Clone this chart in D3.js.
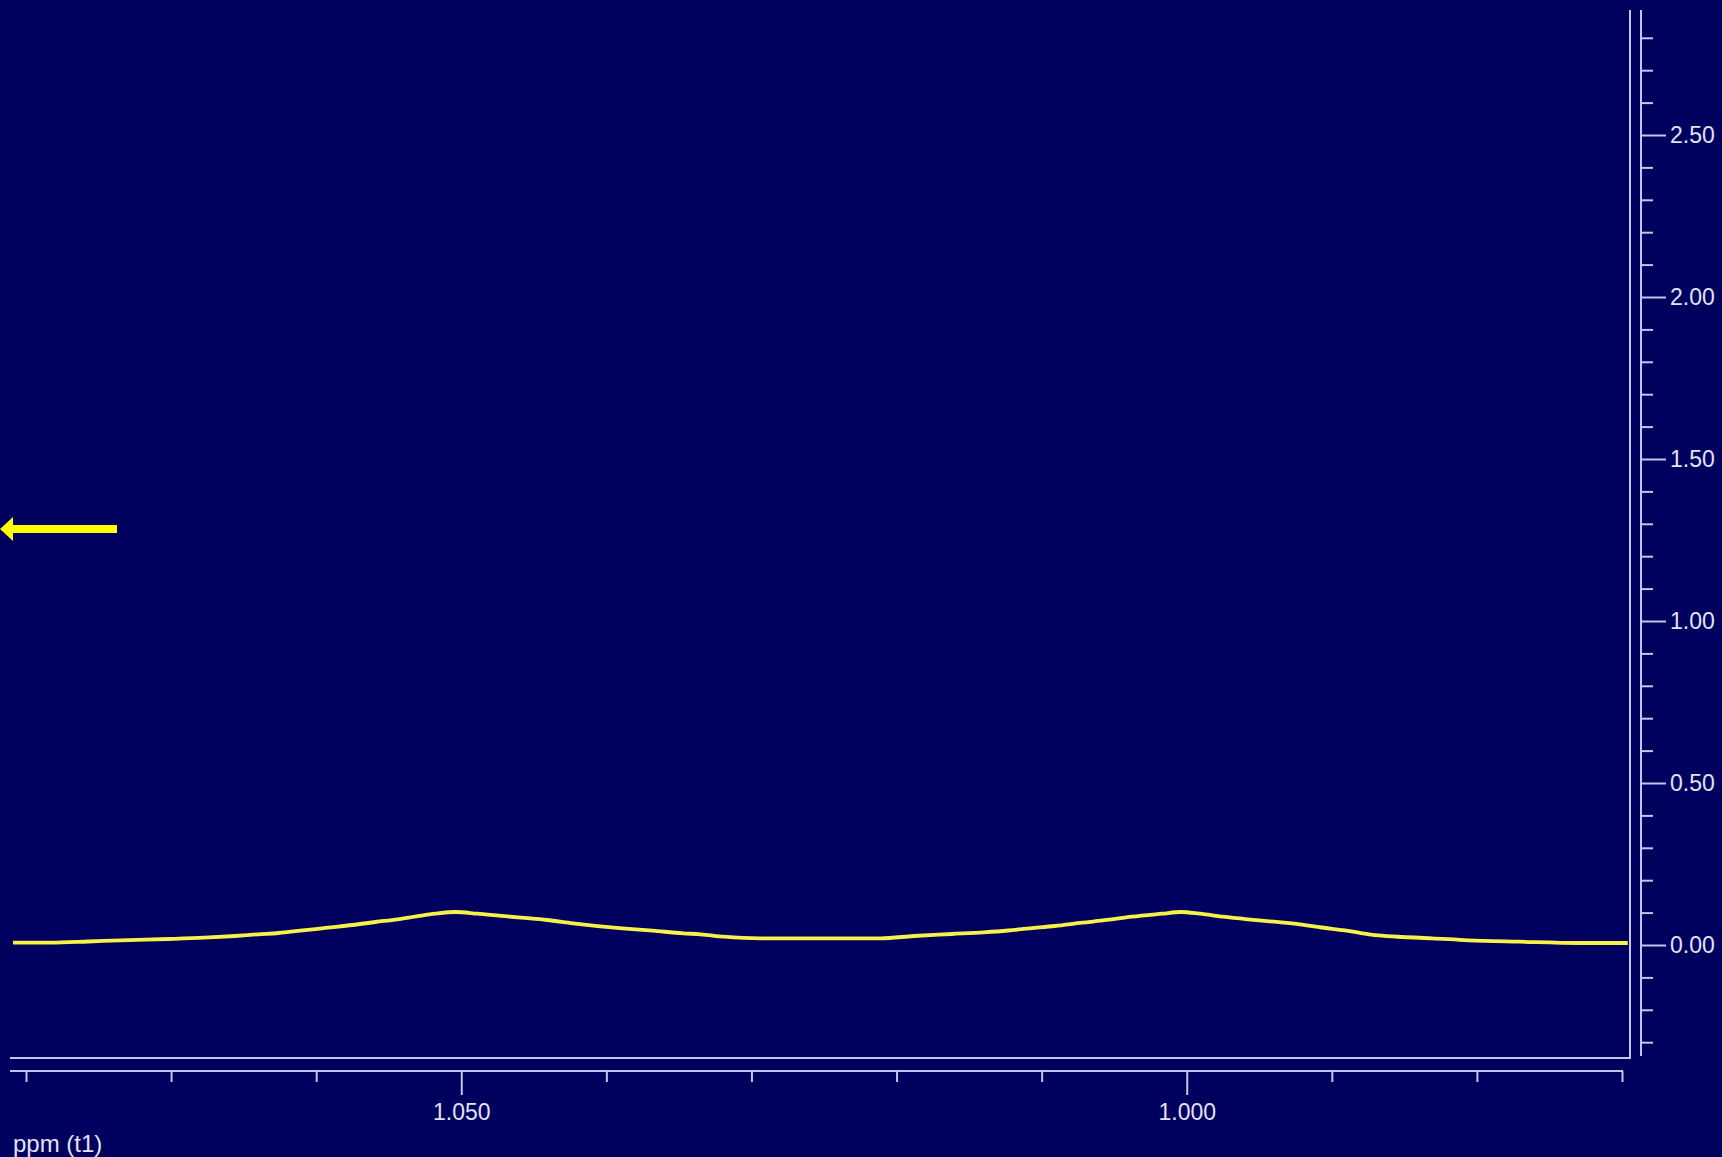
<!DOCTYPE html>
<html>
<head>
<meta charset="utf-8">
<script src="https://cdn.jsdelivr.net/npm/d3@7"></script>
<style>
  html, body { margin: 0; padding: 0; background: #00005e; overflow: hidden; }
  svg { display: block; }
</style>
</head>
<body>
<svg id="chart" width="1722" height="1157"></svg>
<script>
// ---- data ----
const ppm = [1.0809, 1.0783, 1.0757, 1.0735, 1.0702, 1.0677, 1.0656, 1.0640, 1.0626, 1.0611,
             1.0592, 1.0575, 1.0559, 1.0544, 1.0532, 1.0518, 1.0504, 1.0489, 1.0474, 1.0459,
             1.0441, 1.0423, 1.0406, 1.0389, 1.0368, 1.0347, 1.0335, 1.0319, 1.0294, 1.0253,
             1.0211, 1.0188, 1.0162, 1.0140, 1.0123, 1.0108, 1.0091, 1.0072, 1.0055, 1.0038,
             1.0017, 1.0004, 0.9991, 0.9975, 0.9958, 0.9940, 0.9922, 0.9907, 0.9891, 0.9880,
             0.9868, 0.9851, 0.9831, 0.9806, 0.9771, 0.9729, 0.9696];
const intensity = [0.0071, 0.0071, 0.0108, 0.0145, 0.0185, 0.0225, 0.0278, 0.0330, 0.0370, 0.0441,
                   0.0534, 0.0617, 0.0710, 0.0793, 0.0873, 0.0966, 0.1019, 0.0966, 0.0904, 0.0843,
                   0.0772, 0.0670, 0.0586, 0.0515, 0.0441, 0.0361, 0.0330, 0.0256, 0.0207, 0.0207,
                   0.0207, 0.0278, 0.0340, 0.0392, 0.0448, 0.0515, 0.0586, 0.0688, 0.0772, 0.0873,
                   0.0966, 0.1019, 0.0966, 0.0873, 0.0793, 0.0719, 0.0639, 0.0540, 0.0448, 0.0370,
                   0.0299, 0.0247, 0.0207, 0.0145, 0.0102, 0.0062, 0.0062];
const xTicks = [1.080, 1.070, 1.060, 1.050, 1.040, 1.030, 1.020, 1.010, 1.000, 0.990, 0.980, 0.970];
const xLabels = [1.050, 1.000];
const yTicks = [-0.3, -0.2, -0.1, 0.0, 0.1, 0.2, 0.3, 0.4, 0.5, 0.6, 0.7, 0.8, 0.9, 1.0,
                1.1, 1.2, 1.3, 1.4, 1.5, 1.6, 1.7, 1.8, 1.9, 2.0, 2.1, 2.2, 2.3, 2.4, 2.5,
                2.6, 2.7, 2.8];
const yLabels = [0.0, 0.5, 1.0, 1.5, 2.0, 2.5];
const xTitle = "ppm (t1)";
const arrowValue = 1.284;

// ---- layout ----
const svg = d3.select("#chart");
const bg = "#00005e";
const axisColor = "#c4c4ec";
const textColor = "#e2e2f4";
const font = "'Liberation Sans', Arial, sans-serif";

const plot = { left: 10, right: 1630, top: 10, bottom: 1058 };

const x = d3.scaleLinear().domain([1.080, 0.970]).range([26, 1622]);
const y = d3.scaleLinear().domain([0, 2.5]).range([945, 135]);

svg.append("rect").attr("width", 1722).attr("height", 1157).attr("fill", bg);

// clip for spectrum
svg.append("clipPath").attr("id", "clip")
  .append("rect")
  .attr("x", plot.left).attr("y", plot.top)
  .attr("width", plot.right - plot.left).attr("height", plot.bottom - plot.top);

// spectrum line
const pts = ppm.map((p, i) => [p, intensity[i]]);
const line = d3.line().x(d => x(d[0])).y(d => y(d[1])).curve(d3.curveMonotoneX);
svg.append("path")
  .attr("clip-path", "url(#clip)")
  .attr("d", line(pts))
  .attr("fill", "none")
  .attr("stroke", "#f6f24a")
  .attr("stroke-width", 3.8);

// frame (right + bottom)
svg.append("path")
  .attr("d", `M${plot.left},${plot.bottom}H${plot.right}V${plot.top}`)
  .attr("fill", "none")
  .attr("stroke", axisColor)
  .attr("stroke-width", 2);

// ---- right axis ----
const yAxisG = svg.append("g").attr("transform", "translate(1641,0)");
yAxisG.append("line")
  .attr("x1", 0).attr("x2", 0)
  .attr("y1", plot.top).attr("y2", 1056)
  .attr("stroke", axisColor).attr("stroke-width", 2);
const isYMajor = v => yLabels.some(l => Math.abs(l - v) < 1e-9);
const yAxis = d3.axisRight(y)
  .tickValues(yTicks)
  .tickSize(0)
  .tickFormat(v => isYMajor(v) ? d3.format(".2f")(v) : "");
yAxisG.call(yAxis);
yAxisG.select(".domain").remove();
yAxisG.selectAll(".tick line")
  .attr("x2", d => isYMajor(d) ? 25 : 12)
  .attr("stroke", axisColor).attr("stroke-width", 2);
yAxisG.selectAll(".tick text")
  .attr("x", 29)
  .attr("dy", "0.33em")
  .attr("fill", textColor)
  .style("font-family", font)
  .style("font-size", "23px");

// ---- bottom axis ----
const xAxisG = svg.append("g").attr("transform", "translate(0,1071)");
xAxisG.append("line")
  .attr("x1", plot.left).attr("x2", 1623)
  .attr("y1", 0).attr("y2", 0)
  .attr("stroke", axisColor).attr("stroke-width", 2);
const isXMajor = v => xLabels.some(l => Math.abs(l - v) < 1e-9);
const xAxis = d3.axisBottom(x)
  .tickValues(xTicks)
  .tickSize(0)
  .tickFormat(v => isXMajor(v) ? d3.format(".3f")(v) : "");
xAxisG.call(xAxis);
xAxisG.select(".domain").remove();
xAxisG.selectAll(".tick line")
  .attr("y2", d => isXMajor(d) ? 24 : 11)
  .attr("stroke", axisColor).attr("stroke-width", 2);
xAxisG.selectAll(".tick text")
  .attr("y", 49)
  .attr("dy", 0)
  .attr("fill", textColor)
  .style("font-family", font)
  .style("font-size", "23px");

svg.append("text")
  .attr("x", 13).attr("y", 1152)
  .attr("fill", textColor)
  .style("font-family", font)
  .style("font-size", "24px")
  .text(xTitle);

// ---- arrow annotation ----
const ay = y(arrowValue);
svg.append("rect")
  .attr("x", 12).attr("y", ay - 4).attr("width", 105).attr("height", 8)
  .attr("fill", "#ffff00");
svg.append("path")
  .attr("d", `M0,${ay}L13,${ay - 12}L13,${ay + 12}Z`)
  .attr("fill", "#ffff00");
</script>
</body>
</html>
